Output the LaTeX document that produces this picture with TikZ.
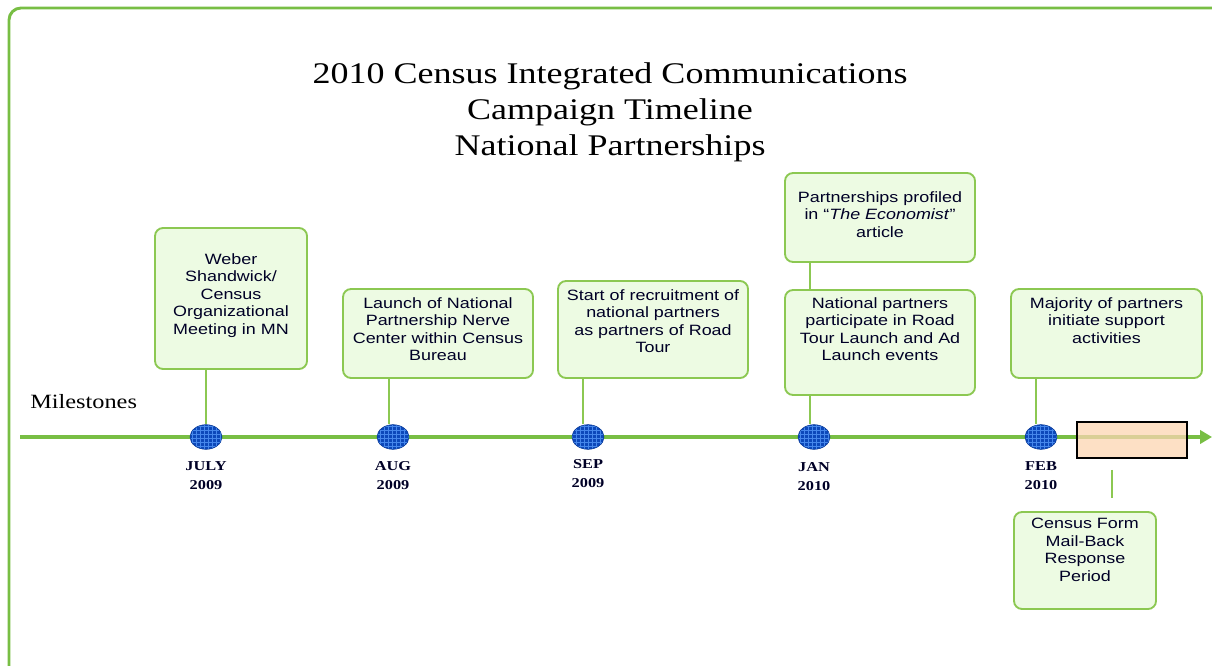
\documentclass[tikz,border=0pt]{standalone}
\usepackage{fontspec}
\setmainfont{Liberation Serif}[FakeStretch=1.2]
\setsansfont{Liberation Sans}[FakeStretch=1.2]
\usetikzlibrary{shapes.geometric,arrows.meta,patterns}

\definecolor{linegreen}{RGB}{120,190,68}
\definecolor{boxgreen}{RGB}{140,200,82}
\definecolor{boxfill}{RGB}{237,251,227}
\definecolor{dotblue}{RGB}{12,72,186}
\definecolor{gridblue}{RGB}{70,135,235}
\definecolor{spanfill}{RGB}{252,214,178}

\tikzset{
  frame/.style={draw=linegreen, line width=2.2pt, rounded corners=9pt},
  axis/.style={draw=linegreen, line width=3pt, -{Triangle[length=9pt,width=10pt]}},
  link/.style={draw=boxgreen, line width=1.4pt},
  dot/.style={ellipse, minimum width=24pt, minimum height=18.5pt, inner sep=0pt,
    draw=dotblue!80!black, line width=0.4pt, preaction={fill=dotblue},
    pattern=grid, pattern color=gridblue},
  evt/.style={draw=boxgreen, fill=boxfill, line width=1.4pt, rounded corners=6pt},
  evtxt/.style={anchor=north, inner sep=0pt, align=center, text=black!85!blue,
    font=\sffamily\fontsize{11.2}{13.2}\selectfont},
  datel/.style={anchor=north, inner sep=0pt, align=center, text=black!85!blue,
    font=\bfseries\fontsize{10.2}{14.2}\selectfont},
  spanbox/.style={draw=black, line width=1.4pt, fill=spanfill, fill opacity=0.75}
}

\begin{document}
\begin{tikzpicture}[x=0.75pt,y=0.75pt,yscale=-1,xscale=1]
  \useasboundingbox (0,0) rectangle (1212,666);
  % frame and timeline
  \draw[frame] (9,8) rectangle (1250,700);
  \node[align=center, inner sep=0pt, font=\fontsize{22.5}{27}\selectfont] (ttl) at (610,112)
    {2010 Census Integrated Communications\\Campaign Timeline\\National Partnerships};
  \node[anchor=west, inner sep=0pt, font=\fontsize{15.2}{18}\selectfont] (ms) at (30,402) {Milestones};
  \draw[axis] (20,437) -- (1212,437);

  % milestone dots (yshift is flipped by yscale=-1)
  \node[dot] (d1) at (206,437) {};
  \node[dot] (d2) at (393,437) {};
  \node[dot] (d3) at (588,437) {};
  \node[dot] (d4) at (814,437) {};
  \node[dot] (d5) at (1041,437) {};
  \node[datel] (l1) at ([yshift=9pt]d1.south) {JULY\\2009};
  \node[datel] (l2) at ([yshift=9pt]d2.south) {AUG\\2009};
  \node[datel] (l3) at ([yshift=7.5pt]d3.south) {SEP\\2009};
  \node[datel] (l4) at ([yshift=9.5pt]d4.south) {JAN\\2010};
  \node[datel] (l5) at ([yshift=8.5pt]d5.south) {FEB\\2010};

  % event boxes
  \node[evt, minimum width=114pt, minimum height=105.75pt] (b1) at (231,298.5) {};
  \node[evt, minimum width=142.5pt, minimum height=66.75pt] (b2) at (438,333.5) {};
  \node[evt, minimum width=142.5pt, minimum height=72.75pt] (b3) at (653,329.5) {};
  \node[evt, minimum width=142.5pt, minimum height=66.75pt] (b4) at (880,217.5) {};
  \node[evt, minimum width=142.5pt, minimum height=78.75pt] (b5) at (880,342.5) {};
  \node[evt, minimum width=143.25pt, minimum height=66.75pt] (b6) at (1106.5,333.5) {};
  \node[evt, minimum width=106.5pt, minimum height=72.75pt] (b7) at (1085,560.5) {};
  \node[evtxt] (t1) at ([yshift=19.5pt]b1.north) {Weber\\Shandwick/\\Census\\Organizational\\Meeting in MN};
  \node[evtxt] (t2) at ([yshift=6.75pt]b2.north) {Launch of National\\Partnership Nerve\\Center within Census\\Bureau};
  \node[evtxt] (t3) at ([yshift=6.75pt]b3.north) {Start of recruitment of\\national partners\\as partners of Road\\Tour};
  \node[evtxt] (t4) at ([yshift=14.25pt]b4.north) {Partnerships profiled\\in ``\textit{The Economist}''\\article};
  \node[evtxt] (t5) at ([yshift=6pt]b5.north) {National partners\\participate in Road\\Tour Launch and Ad\\Launch events};
  \node[evtxt] (t6) at ([yshift=6.75pt]b6.north) {Majority of partners\\initiate support\\activities};
  \node[evtxt] (t7) at ([yshift=5.25pt]b7.north) {Census Form\\Mail-Back\\Response\\Period};

  % connectors
  \draw[link] (d1.north) -- (d1 |- b1.south);
  \draw[link] ([xshift=-3pt]d2.north) -- ([xshift=-3pt]d2 |- b2.south);
  \draw[link] ([xshift=-4pt]d3.north) -- ([xshift=-4pt]d3 |- b3.south);
  \draw[link] ([xshift=-3pt]d4.north) -- ([xshift=-3pt]d4 |- b5.south);
  \draw[link] ([xshift=-3pt]b4.south -| d4) -- ([xshift=-3pt]b5.north -| d4);
  \draw[link] ([xshift=-4pt]d5.north) -- ([xshift=-4pt]d5 |- b6.south);

  % mail-back period
  \node[spanbox, minimum width=82.5pt, minimum height=27pt] (mb) at (1132,440) {};
  \draw[link] ([xshift=-15pt,yshift=8.25pt]mb.south) -- ++(0,28);
\end{tikzpicture}
\end{document}
